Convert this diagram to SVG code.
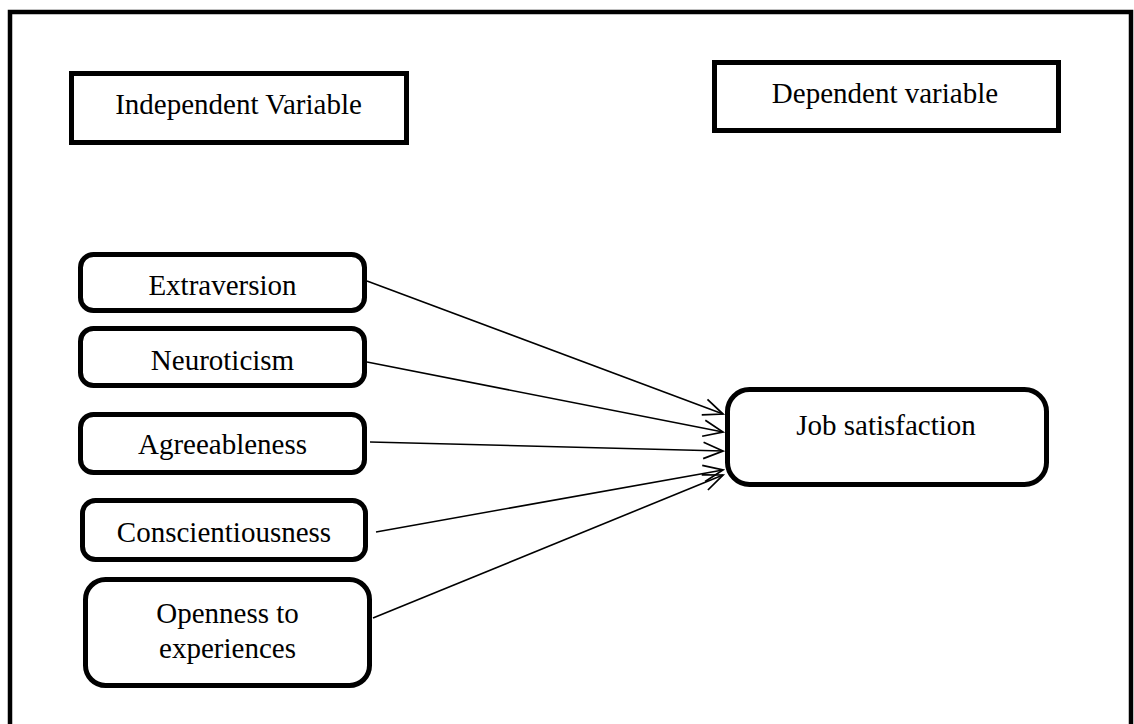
<svg xmlns="http://www.w3.org/2000/svg" width="1134" height="724" viewBox="0 0 1134 724">
<style>
  text { font-family: "Liberation Serif", "Times New Roman", serif; font-size: 29px; fill: #000; text-anchor: middle; }
  .box { fill: #fff; stroke: #000; stroke-width: 5; }
  .conn { stroke: #000; stroke-width: 1.6; fill: none; marker-end: url(#arrow); }
</style>
<defs>
  <marker id="arrow" markerUnits="userSpaceOnUse" markerWidth="24" markerHeight="24" viewBox="-20 -10 22 20" refX="0" refY="0" orient="auto">
    <path d="M-18,-7.5 L0,0 L-18,7.5" fill="none" stroke="#000" stroke-width="1.6"/>
  </marker>
</defs>
<rect width="1134" height="724" fill="#fff"/>
<rect id="frame" x="10" y="12" width="1121" height="730" fill="none" stroke="#000" stroke-width="4.5"/>

<g id="independent-label">
  <rect class="box" x="71.5" y="73.5" width="335" height="69"/>
  <text x="238.5" y="114">Independent Variable</text>
</g>
<g id="dependent-label">
  <rect class="box" x="714.5" y="62.5" width="344" height="68"/>
  <text x="885" y="103">Dependent variable</text>
</g>

<g id="extraversion">
  <rect class="box" x="80.5" y="254.5" width="284" height="56" rx="13"/>
  <text x="222.5" y="295">Extraversion</text>
</g>
<g id="neuroticism">
  <rect class="box" x="80.5" y="328.5" width="284" height="57" rx="13"/>
  <text x="222.5" y="370">Neuroticism</text>
</g>
<g id="agreeableness">
  <rect class="box" x="80.5" y="414.5" width="284" height="58" rx="13"/>
  <text x="222.5" y="454">Agreeableness</text>
</g>
<g id="conscientiousness">
  <rect class="box" x="82.5" y="500.5" width="283" height="59" rx="13"/>
  <text x="224" y="542">Conscientiousness</text>
</g>
<g id="openness">
  <rect class="box" x="85.5" y="579.5" width="284" height="106" rx="20"/>
  <text x="227.5" y="623">Openness to</text>
  <text x="227.5" y="658">experiences</text>
</g>
<g id="job-satisfaction">
  <rect class="box" x="727.5" y="389.5" width="319" height="95" rx="22"/>
  <text x="886" y="435">Job satisfaction</text>
</g>

<g id="connectors">
  <line class="conn" x1="367" y1="281" x2="723" y2="414"/>
  <line class="conn" x1="367" y1="362" x2="723" y2="432"/>
  <line class="conn" x1="370" y1="442" x2="723" y2="451"/>
  <line class="conn" x1="376" y1="532" x2="723" y2="470"/>
  <line class="conn" x1="373" y1="618" x2="723" y2="475"/>
</g>
</svg>
